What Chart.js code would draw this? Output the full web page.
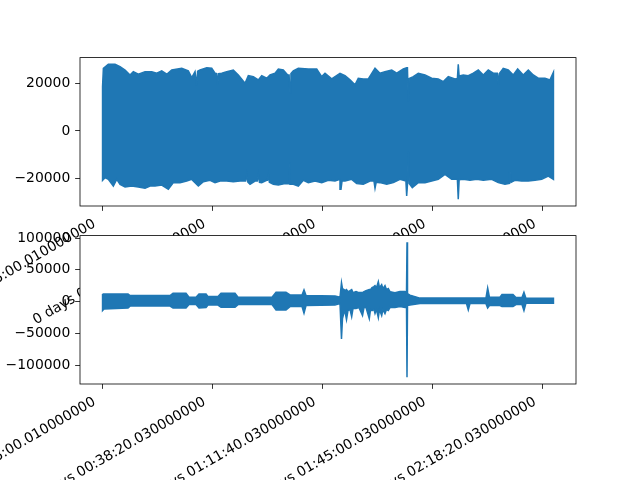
<!DOCTYPE html>
<html>
<head>
<meta charset="utf-8">
<script src="https://cdn.jsdelivr.net/npm/chart.js@4"></script>
<style>
  html, body { margin: 0; padding: 0; background: #fff; }
  #wrap { position: relative; width: 640px; height: 480px; }
  canvas { position: absolute; left: 0; top: 0; }
</style>
</head>
<body>
<div id="wrap">
  <canvas id="topChart" width="640" height="480"></canvas>
  <canvas id="bottomChart" width="640" height="480"></canvas>
</div>
<script>
// time in seconds since start of recording
const tickSeconds = [300.01, 2300.03, 4300.03, 6300.03, 8300.03];
const tickLabels = [
  '0 days 00:05:00.010000000',
  '0 days 00:38:20.030000000',
  '0 days 01:11:40.030000000',
  '0 days 01:45:00.030000000',
  '0 days 02:18:20.030000000'
];

// top signal: upper / lower envelope
const topUpperT = [300, 315, 405, 527, 618, 709, 799, 859, 950, 1072, 1193, 1284, 1375, 1466, 1557, 1738, 1858, 1920, 1980, 1995, 2011, 2027, 2071, 2192, 2283, 2343, 2375, 2392, 2410, 2465, 2555, 2675, 2766, 2888, 2948, 3039, 3129, 3191, 3282, 3342, 3433, 3493, 3583, 3663, 3688, 3705, 3722, 3765, 3856, 4037, 4190, 4281, 4341, 4462, 4613, 4704, 4795, 4885, 4945, 5036, 5127, 5249, 5339, 5430, 5552, 5643, 5763, 5824, 5838, 5853, 5870, 5944, 6035, 6157, 6278, 6398, 6489, 6580, 6701, 6745, 6761, 6777, 6852, 6943, 7034, 7125, 7216, 7306, 7397, 7470, 7488, 7505, 7578, 7669, 7760, 7840, 7941, 8033, 8123, 8214, 8336, 8427, 8490];
const topUpperV = [18600, 26250, 27900, 27900, 26920, 25540, 23460, 24830, 23750, 24830, 24830, 24170, 25130, 23750, 25540, 26250, 25130, 22330, 24830, 24830, 19000, 25000, 25540, 26500, 26250, 24170, 24000, 19290, 24000, 24170, 24830, 25540, 23460, 20000, 23170, 22750, 21380, 23170, 22080, 23460, 24170, 25960, 25540, 23460, 23460, 15960, 24000, 25130, 26250, 25960, 25960, 22750, 24170, 21790, 24170, 23170, 21380, 19290, 22080, 21790, 21790, 26250, 24170, 24830, 25540, 24170, 25960, 26500, 26500, 12330, 22000, 22750, 24170, 23460, 22080, 21790, 20670, 22750, 21790, 22000, 27900, 23000, 23460, 23170, 24170, 25540, 23460, 25540, 24170, 24170, 19290, 24000, 26250, 25540, 23460, 25960, 23460, 25540, 23460, 22080, 22080, 21380, 24590];
const topLowerT = [300, 345, 405, 496, 558, 618, 709, 830, 950, 1072, 1163, 1253, 1375, 1495, 1586, 1707, 1829, 1920, 1980, 2040, 2131, 2252, 2343, 2434, 2555, 2675, 2797, 2900, 2919, 2940, 2979, 3069, 3110, 3129, 3150, 3191, 3282, 3295, 3311, 3330, 3402, 3493, 3614, 3688, 3705, 3722, 3765, 3856, 3947, 4037, 4159, 4281, 4401, 4522, 4613, 4631, 4650, 4704, 4825, 4916, 5036, 5158, 5230, 5249, 5270, 5339, 5461, 5581, 5703, 5810, 5824, 5840, 5853, 5870, 5926, 6035, 6157, 6278, 6398, 6520, 6641, 6745, 6761, 6777, 6852, 6974, 7096, 7216, 7368, 7488, 7609, 7690, 7700, 7720, 7791, 7912, 8033, 8154, 8276, 8396, 8490];
const topLowerV = [-20710, -19585, -20290, -23085, -20290, -22380, -23500, -23085, -23500, -24040, -23085, -23085, -22670, -24460, -21670, -21670, -21000, -20290, -21670, -23085, -21250, -20710, -21670, -21000, -21000, -21250, -21000, -21000, -18210, -21500, -22380, -21000, -21000, -18210, -21500, -21670, -20710, -20710, -18210, -21500, -22380, -22670, -22085, -22085, -13330, -22380, -22380, -23085, -20710, -21670, -21000, -21670, -20710, -21000, -20290, -24460, -21000, -21000, -20290, -22085, -22380, -21000, -21000, -24040, -21500, -21670, -22380, -21670, -20290, -21000, -27250, -22000, -8500, -22000, -23750, -21670, -21670, -21000, -20290, -18210, -20290, -20290, -28630, -20500, -20290, -20710, -20290, -20710, -20290, -21670, -22380, -22000, -16830, -21500, -20710, -21000, -21000, -20710, -20290, -18920, -20290];

// bottom signal: upper / lower envelope
const bottomT = [300, 327, 763, 799, 1526, 1580, 1816, 1871, 1998, 2052, 2180, 2216, 2397, 2452, 2706, 2761, 3378, 3451, 3632, 3705, 3923, 3959, 3996, 4522, 4613, 4640, 4658, 4686, 4704, 4731, 4758, 4795, 4825, 4849, 4904, 4958, 5022, 5049, 5085, 5145, 5167, 5194, 5230, 5249, 5276, 5309, 5330, 5370, 5393, 5430, 5457, 5490, 5521, 5612, 5703, 5793, 5821, 5830, 5839, 5884, 6066, 6910, 6943, 6974, 7264, 7295, 7328, 7518, 7555, 7755, 7809, 7918, 7954, 7990, 8490];
const bottomUpper = [12130, 12130, 12130, 9450, 9450, 13070, 13070, 6770, 6770, 12130, 12130, 7875, 7875, 13070, 13070, 6770, 6770, 14650, 14650, 10550, 10550, 18430, 9450, 8660, 6770, 29925, 20475, 18900, 17325, 18900, 15750, 17325, 18900, 14175, 15750, 14175, 14175, 15750, 17325, 18900, 18900, 22050, 23625, 25200, 22050, 31500, 22050, 26775, 20475, 25200, 18900, 20475, 15750, 14175, 15750, 15750, 14650, 93400, 12600, 10240, 5510, 5510, 5510, 5510, 5510, 21580, 6770, 6770, 11025, 11025, 6300, 6300, 14650, 5200, 5200];
const bottomLower = [-14175, -11500, -9920, -7090, -7090, -9920, -9920, -4725, -4725, -9920, -9450, -5510, -5510, -8980, -8980, -4725, -4725, -13070, -13070, -7875, -7875, -18430, -6300, -5510, -3150, -58750, -26775, -17325, -15750, -28350, -14175, -12600, -23625, -11025, -11025, -9450, -22050, -9450, -9450, -26775, -12600, -14175, -12600, -18900, -12600, -25200, -12600, -22050, -12600, -18900, -12600, -14175, -9450, -9450, -7875, -9450, -8980, -119230, -6300, -5510, -3150, -3150, -13070, -3150, -3150, -9920, -6300, -6300, -7875, -7875, -4725, -4725, -14175, -2680, -2680];

const topYTicks = [-20000, 0, 20000];
const topYLabels = ['\u221220000', '0', '20000'];
const bottomYTicks = [-100000, -50000, 0, 50000, 100000];
const bottomYLabels = ['\u2212100000', '\u221250000', '0', '50000', '100000'];

Chart.defaults.font.family = "'DejaVu Sans', sans-serif";
Chart.defaults.font.size = 13.9;
Chart.defaults.color = '#000';

const TICK = 4.86;
const BLUE = '#1f77b4';

function pts(ts, vs) {
  return ts.map((t, i) => ({ x: t, y: vs[i] }));
}

// envelope as one closed outline: upper edge forward, lower edge back
function outline(upper, lower) {
  return upper.concat(lower.slice().reverse(), [upper[0]]);
}

function padded(vals) {
  const lo = Math.min(...vals), hi = Math.max(...vals), m = (hi - lo) * 0.05;
  return [lo - m, hi + m];
}

const frame = {
  id: 'frame',
  beforeDraw(chart, args, opts) {
    if (!opts.cover) return;
    const a = chart.chartArea, ctx = chart.ctx;
    ctx.save();
    ctx.fillStyle = '#fff';
    ctx.fillRect(a.left, a.top, a.right - a.left, a.bottom - a.top);
    ctx.restore();
  },
  afterDraw(chart) {
    const a = chart.chartArea, ctx = chart.ctx;
    ctx.save();
    ctx.strokeStyle = '#000';
    ctx.lineWidth = 0.8;
    ctx.strokeRect(a.left, a.top, a.right - a.left, a.bottom - a.top);
    ctx.restore();
  }
};

const allT = topUpperT.concat(topLowerT, bottomT);
const xr = padded(allT);

function makeChart(id, upper, lower, yTicks, yLabels, area, cover) {
  const yr = padded(upper.map(p => p.y).concat(lower.map(p => p.y)));
  const xH = 480 - area.bottom;
  return new Chart(document.getElementById(id), {
    type: 'line',
    data: {
      datasets: [{
        data: outline(upper, lower),
        borderColor: BLUE,
        backgroundColor: BLUE,
        borderWidth: 1.5,
        pointRadius: 0,
        fill: 'shape',
        tension: 0
      }]
    },
    options: {
      responsive: false,
      animation: false,
      devicePixelRatio: 1,
      layout: {
        padding: { left: 0, right: 640 - area.right, top: area.top, bottom: 0 }
      },
      plugins: { legend: { display: false }, tooltip: { enabled: false }, frame: { cover: cover } },
      scales: {
        x: {
          type: 'linear',
          min: xr[0],
          max: xr[1],
          border: { display: false },
          grid: { drawOnChartArea: false, drawTicks: true, tickLength: TICK, color: '#000', lineWidth: 0.8 },
          ticks: {
            autoSkip: false,
            minRotation: 30,
            maxRotation: 30,
            padding: TICK,
            labelOffset: -8,
            callback: (v, i) => tickLabels[i]
          },
          afterBuildTicks: s => { s.ticks = tickSeconds.map(v => ({ value: v })); },
          afterFit: s => { s.height = xH; s.paddingLeft = 0; s.paddingRight = 0; }
        },
        y: {
          min: yr[0],
          max: yr[1],
          border: { display: false },
          grid: { drawOnChartArea: false, drawTicks: true, tickLength: TICK, color: '#000', lineWidth: 0.8 },
          ticks: { padding: TICK, callback: (v, i) => yLabels[i] },
          afterBuildTicks: s => { s.ticks = yTicks.map(v => ({ value: v })); },
          afterFit: s => { s.width = area.left; s.paddingTop = 0; s.paddingBottom = 0; }
        }
      }
    },
    plugins: [frame]
  });
}

makeChart('topChart', pts(topUpperT, topUpperV), pts(topLowerT, topLowerV),
  topYTicks, topYLabels, { left: 80, right: 576, top: 57.6, bottom: 206 }, false);
makeChart('bottomChart', pts(bottomT, bottomUpper), pts(bottomT, bottomLower),
  bottomYTicks, bottomYLabels, { left: 80, right: 576, top: 235.6, bottom: 384 }, true);
</script>
</body>
</html>
